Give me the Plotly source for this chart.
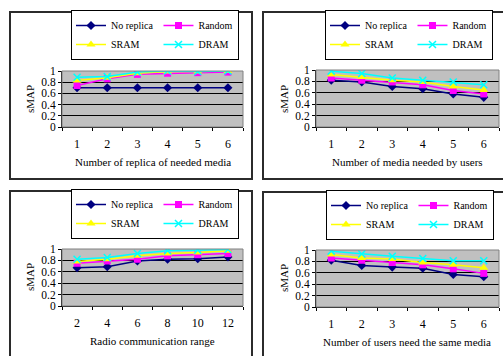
import plotly.graph_objects as go

W, H = 503, 356

series_names = ["No replica", "Random", "SRAM", "DRAM"]

# Panel 1
p1_x = ["1", "2", "3", "4", "5", "6"]
p1_no_replica = [0.70, 0.70, 0.70, 0.70, 0.70, 0.70]
p1_random = [0.74, 0.86, 0.94, 0.96, 0.97, 0.98]
p1_sram = [0.83, 0.88, 0.96, 0.99, 0.99, 1.00]
p1_dram = [0.89, 0.90, 0.98, 1.00, 0.99, 1.00]
p1_title = "Number of replica of needed media"

# Panel 2
p2_x = ["1", "2", "3", "4", "5", "6"]
p2_no_replica = [0.82, 0.79, 0.71, 0.67, 0.58, 0.52]
p2_random = [0.86, 0.82, 0.79, 0.74, 0.64, 0.58]
p2_sram = [0.92, 0.875, 0.82, 0.79, 0.71, 0.65]
p2_dram = [0.98, 0.94, 0.86, 0.82, 0.79, 0.74]
p2_title = "Number of media needed by users"

# Panel 3
p3_x = ["2", "4", "6", "8", "10", "12"]
p3_no_replica = [0.67, 0.69, 0.79, 0.82, 0.83, 0.86]
p3_random = [0.75, 0.79, 0.82, 0.88, 0.90, 0.92]
p3_sram = [0.78, 0.82, 0.88, 0.92, 0.94, 0.97]
p3_dram = [0.82, 0.85, 0.92, 0.97, 0.98, 0.99]
p3_title = "Radio communication range"

# Panel 4
p4_x = ["1", "2", "3", "4", "5", "6"]
p4_no_replica = [0.82, 0.73, 0.70, 0.68, 0.57, 0.53]
p4_random = [0.86, 0.82, 0.78, 0.74, 0.67, 0.59]
p4_sram = [0.92, 0.86, 0.84, 0.78, 0.74, 0.69]
p4_dram = [0.98, 0.93, 0.89, 0.85, 0.81, 0.81]
p4_title = "Number of users need the same media"

y_tickvals = [0, 0.2, 0.4, 0.6, 0.8, 1.0]
y_ticktext = ["0", "0.2", "0.4", "0.6", "0.8", "1"]
y_title = "sMAP"

FONT = "Liberation Serif"
colors = ["#000080", "#FF00FF", "#FFFF00", "#00FFFF"]
symbols = ["diamond", "square", "triangle-up", "x-thin-open"]
msizes = [7, 7, 8, 7]
groups = ["a", "b", "a", "b"]

panels = [
    dict(x=p1_x, ys=[p1_no_replica, p1_random, p1_sram, p1_dram], title=p1_title,
         px=(62, 243), py=(71, 127), frame=(10, 252, 12, 179), leg=(71, 10),
         xt=(153, 162), yt=(30, 99)),
    dict(x=p2_x, ys=[p2_no_replica, p2_random, p2_sram, p2_dram], title=p2_title,
         px=(316, 499), py=(70, 127), frame=(263, 515, 12, 179), leg=(325, 10),
         xt=(407, 162), yt=(284, 99)),
    dict(x=p3_x, ys=[p3_no_replica, p3_random, p3_sram, p3_dram], title=p3_title,
         px=(62, 243), py=(249, 306), frame=(10, 252, 191, 370), leg=(71, 189),
         xt=(152, 341), yt=(30, 277)),
    dict(x=p4_x, ys=[p4_no_replica, p4_random, p4_sram, p4_dram], title=p4_title,
         px=(316, 499), py=(250, 307), frame=(263, 515, 192, 370), leg=(326, 190),
         xt=(407, 342), yt=(284, 278)),
]

fig = go.Figure()
layout = dict(
    width=W, height=H, margin=dict(l=0, r=0, t=0, b=0, autoexpand=False),
    paper_bgcolor="white", plot_bgcolor="#C0C0C0",
    font=dict(family=FONT, size=11, color="black"),
    shapes=[], annotations=[],
)

for i, p in enumerate(panels):
    n = "" if i == 0 else str(i + 1)
    xa, ya = "x" + n, "y" + n
    legname = "legend" + n
    for k in range(4):
        fig.add_trace(go.Scatter(
            x=p["x"], y=p["ys"][k], name=series_names[k], mode="lines+markers",
            line=dict(color=colors[k], width=1.5),
            marker=dict(symbol=symbols[k], size=msizes[k], color=colors[k],
                        line=dict(color=colors[k], width=1.5 if k == 3 else 0)),
            xaxis=xa, yaxis=ya, legend=legname, legendgroup=f"{i}{groups[k]}",
            showlegend=True,
        ))
    x0, x1 = p["px"]
    y0, y1 = p["py"]
    layout["xaxis" + n] = dict(
        domain=[x0 / W, x1 / W], anchor=ya, type="category", range=[-0.5, 5.5],
        tickson="boundaries", ticks="outside", ticklen=3, tickcolor="black",
        showline=True, linecolor="black", linewidth=1, showgrid=False,
        tickfont=dict(family=FONT, size=12), ticklabelstandoff=6,
        automargin=False, fixedrange=True,
    )
    layout["yaxis" + n] = dict(
        domain=[1 - y1 / H, 1 - y0 / H], anchor=xa, range=[0, 1],
        tickvals=y_tickvals, ticktext=y_ticktext, ticks="outside", ticklen=3,
        tickcolor="black", showline=True, linecolor="black", linewidth=1,
        showgrid=True, gridcolor="black", gridwidth=1, zeroline=False,
        tickfont=dict(family=FONT, size=11.5), automargin=False, fixedrange=True,
    )
    lx, ly = p["leg"]
    layout[legname] = dict(
        x=lx / W, y=1 - ly / H, xanchor="left", yanchor="top",
        orientation="h", traceorder="grouped", bgcolor="white",
        bordercolor="black", borderwidth=1, font=dict(family=FONT, size=10),
        itemwidth=30, tracegroupgap=0,
    )
    tx, ty = p["xt"]
    layout["annotations"].append(dict(
        text=p["title"], xref="paper", yref="paper", x=tx / W, y=1 - ty / H,
        xanchor="center", yanchor="middle", showarrow=False,
        font=dict(family=FONT, size=11)))
    sx, sy = p["yt"]
    layout["annotations"].append(dict(
        text=y_title, xref="paper", yref="paper", x=sx / W, y=1 - sy / H,
        xanchor="center", yanchor="middle", showarrow=False, textangle=-90,
        font=dict(family=FONT, size=11)))
    fx0, fx1, fy0, fy1 = p["frame"]
    layout["shapes"].append(dict(
        type="rect", xref="paper", yref="paper",
        x0=fx0 / W, x1=fx1 / W, y0=1 - fy1 / H, y1=1 - fy0 / H,
        line=dict(color="#2b2b2b", width=2), fillcolor="rgba(0,0,0,0)", layer="below",
    ))
    layout["shapes"].append(dict(
        type="rect", xref=xa + " domain", yref=ya + " domain",
        x0=0, x1=1, y0=0, y1=1, line=dict(color="#808080", width=1),
        fillcolor="rgba(0,0,0,0)", layer="above",
    ))

fig.update_layout(**layout)
fig.write_html(
    "out.html",
    config={"displayModeBar": False, "staticPlot": True},
    post_script="document.body.style.margin='0';document.body.style.overflow='hidden';",
)
